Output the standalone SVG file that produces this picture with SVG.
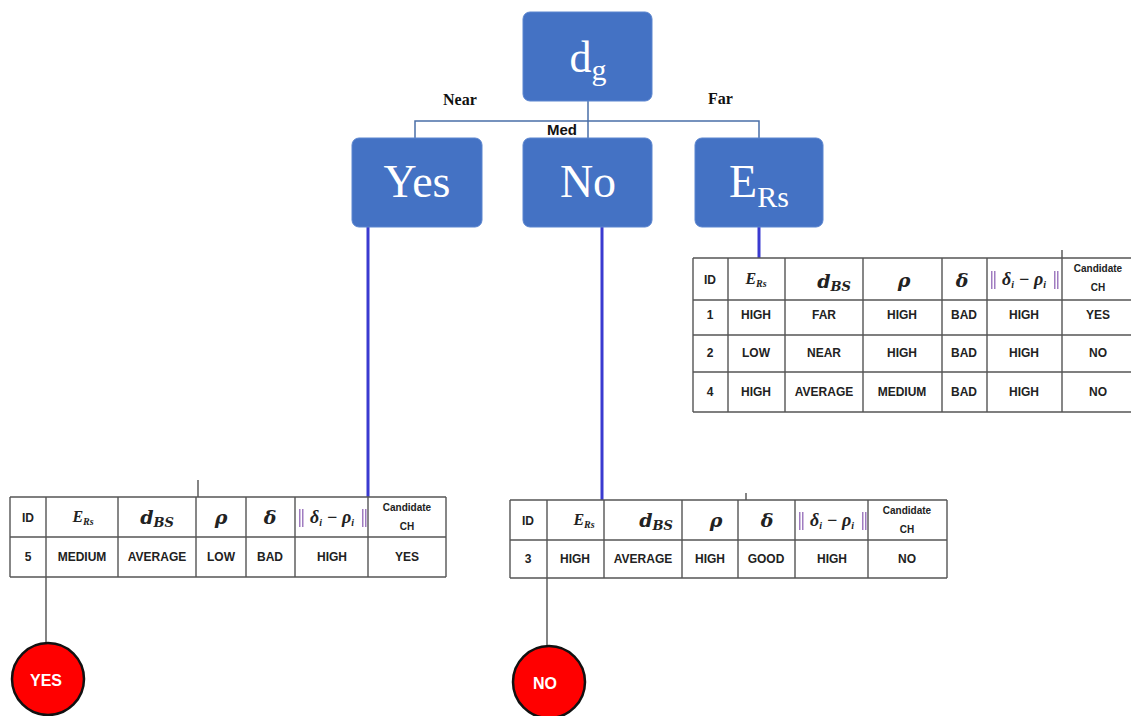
<svg xmlns="http://www.w3.org/2000/svg" width="1131" height="716" viewBox="0 0 1131 716">
<style>
.box{fill:#4472C4;stroke:#5b85cf;stroke-width:1}
.bt{font-family:"Liberation Serif","Times New Roman",serif;fill:#fff;text-anchor:middle}
.tree{stroke:#4a6fa8;stroke-width:1.5;fill:none}
.blue{stroke:#3a3ad0;stroke-width:3;fill:none}
.grid{stroke:#555;stroke-width:1.4;fill:none}
.thin{stroke:#333;stroke-width:1.2;fill:none}
.lab{font-family:"Liberation Serif","Times New Roman",serif;font-weight:bold;font-size:16px;fill:#111}
.med{font-family:"Liberation Sans",Arial,sans-serif;font-weight:bold;font-size:15px;fill:#111}
.c{font-family:"Liberation Sans",Arial,sans-serif;font-weight:bold;font-size:12px;fill:#222;text-anchor:middle}
.cs{font-family:"Liberation Sans",Arial,sans-serif;font-weight:bold;font-size:10px;fill:#222;text-anchor:middle}
.m{font-family:"DejaVu Serif","Liberation Serif",serif;font-weight:bold;font-style:italic;font-size:19px;fill:#222;text-anchor:middle}
.ms{font-family:"Liberation Serif",serif;font-weight:bold;font-style:italic;fill:#222;text-anchor:middle}
.mx{font-family:"Liberation Serif",serif;font-weight:bold;font-style:italic;font-size:18px;fill:#222;text-anchor:middle}
.bar{fill:#a07cc0}
.leaf{fill:#ff0000;stroke:#111;stroke-width:2.5}
.lt{font-family:"Liberation Sans",Arial,sans-serif;font-weight:bold;font-size:16px;fill:#fff;text-anchor:middle}
</style>

<g id="connectors">
  <path class="tree" d="M588 101 V138 M415 138 V121 H759 V138"/>
  <line class="blue" x1="368" y1="227" x2="368" y2="497"/>
  <line class="blue" x1="602" y1="227" x2="602" y2="500"/>
  <line class="blue" x1="759" y1="227" x2="759" y2="258"/>
  <line class="thin" x1="46" y1="577" x2="46" y2="643"/>
  <line class="thin" x1="547" y1="578" x2="547" y2="646"/>
  <line class="thin" x1="198" y1="480" x2="198" y2="497"/>
  <line class="thin" x1="746" y1="493" x2="746" y2="500"/>
  <line class="thin" x1="1062" y1="250" x2="1062" y2="258"/>
</g>

<g id="edge-labels">
  <text class="lab" x="443" y="105">Near</text>
  <text class="med" x="547" y="135">Med</text>
  <text class="lab" x="708" y="104">Far</text>
</g>

<g id="node-dg">
  <rect class="box" x="523" y="12" width="129" height="89" rx="7"/>
  <text class="bt" x="588" y="72" font-size="44">d<tspan font-size="30" dy="8">g</tspan></text>
</g>
<g id="node-yes">
  <rect class="box" x="352" y="138" width="130" height="89" rx="7"/>
  <text class="bt" x="417" y="197" font-size="46">Yes</text>
</g>
<g id="node-no">
  <rect class="box" x="523" y="138" width="129" height="89" rx="7"/>
  <text class="bt" x="588" y="197" font-size="46">No</text>
</g>
<g id="node-ers">
  <rect class="box" x="695" y="138" width="128" height="89" rx="7"/>
  <text class="bt" x="759" y="197" font-size="46">E<tspan font-size="30" dy="10">Rs</tspan></text>
</g>

<g id="table-far">
  <path class="grid" d="M693 258 H1131 M693 300 H1131 M693 335 H1131 M693 372 H1131 M693 412 H1131 M693 258 V412 M728 258 V412 M785 258 V412 M863 258 V412 M942 258 V412 M987 258 V412 M1062 258 V412"/>
  <text class="c" x="710" y="284">ID</text>
  <text class="ms" x="756" y="284" font-size="16">E<tspan font-size="10" dy="3">Rs</tspan></text>
  <text class="m" x="834" y="288">d<tspan font-size="13" dy="3">BS</tspan></text>
  <text class="m" x="904" y="287">ρ</text>
  <text class="m" x="962" y="287">δ</text>
  <g><rect class="bar" x="991" y="271" width="1.5" height="18"/><rect class="bar" x="994" y="271" width="1.5" height="18"/>
  <text class="mx" x="1024" y="285">δ<tspan font-size="10" dy="3">i</tspan><tspan dy="-3"> − ρ</tspan><tspan font-size="10" dy="3">i</tspan></text>
  <rect class="bar" x="1054" y="271" width="1.5" height="18"/><rect class="bar" x="1057" y="271" width="1.5" height="18"/></g>
  <text class="cs" x="1098" y="272">Candidate</text>
  <text class="cs" x="1098" y="291">CH</text>
  <text class="c" x="710" y="319">1</text><text class="c" x="756" y="319">HIGH</text><text class="c" x="824" y="319">FAR</text><text class="c" x="902" y="319">HIGH</text><text class="c" x="964" y="319">BAD</text><text class="c" x="1024" y="319">HIGH</text><text class="c" x="1098" y="319">YES</text>
  <text class="c" x="710" y="357">2</text><text class="c" x="756" y="357">LOW</text><text class="c" x="824" y="357">NEAR</text><text class="c" x="902" y="357">HIGH</text><text class="c" x="964" y="357">BAD</text><text class="c" x="1024" y="357">HIGH</text><text class="c" x="1098" y="357">NO</text>
  <text class="c" x="710" y="396">4</text><text class="c" x="756" y="396">HIGH</text><text class="c" x="824" y="396">AVERAGE</text><text class="c" x="902" y="396">MEDIUM</text><text class="c" x="964" y="396">BAD</text><text class="c" x="1024" y="396">HIGH</text><text class="c" x="1098" y="396">NO</text>
</g>

<g id="table-near">
  <path class="grid" d="M10 497 H446 M10 537 H446 M10 577 H446 M10 497 V577 M46 497 V577 M118 497 V577 M196 497 V577 M246 497 V577 M295 497 V577 M368 497 V577 M446 497 V577"/>
  <text class="c" x="28" y="522">ID</text>
  <text class="ms" x="83" y="522" font-size="16">E<tspan font-size="10" dy="3">Rs</tspan></text>
  <text class="m" x="157" y="524">d<tspan font-size="13" dy="3">BS</tspan></text>
  <text class="m" x="221" y="524">ρ</text>
  <text class="m" x="270" y="524">δ</text>
  <g><rect class="bar" x="299" y="509" width="1.5" height="18"/><rect class="bar" x="302" y="509" width="1.5" height="18"/>
  <text class="mx" x="332" y="523">δ<tspan font-size="10" dy="3">i</tspan><tspan dy="-3"> − ρ</tspan><tspan font-size="10" dy="3">i</tspan></text>
  <rect class="bar" x="362" y="509" width="1.5" height="18"/><rect class="bar" x="365" y="509" width="1.5" height="18"/></g>
  <text class="cs" x="407" y="511">Candidate</text>
  <text class="cs" x="407" y="530">CH</text>
  <text class="c" x="28" y="561">5</text><text class="c" x="82" y="561">MEDIUM</text><text class="c" x="157" y="561">AVERAGE</text><text class="c" x="221" y="561">LOW</text><text class="c" x="270" y="561">BAD</text><text class="c" x="332" y="561">HIGH</text><text class="c" x="407" y="561">YES</text>
</g>

<g id="table-med">
  <path class="grid" d="M510 500 H947 M510 540 H947 M510 578 H947 M510 500 V578 M547 500 V578 M604 500 V578 M682 500 V578 M738 500 V578 M795 500 V578 M868 500 V578 M947 500 V578"/>
  <text class="c" x="528" y="525">ID</text>
  <text class="ms" x="584" y="525" font-size="16">E<tspan font-size="10" dy="3">Rs</tspan></text>
  <text class="m" x="656" y="527">d<tspan font-size="13" dy="3">BS</tspan></text>
  <text class="m" x="716" y="527">ρ</text>
  <text class="m" x="767" y="527">δ</text>
  <g><rect class="bar" x="799" y="512" width="1.5" height="18"/><rect class="bar" x="802" y="512" width="1.5" height="18"/>
  <text class="mx" x="832" y="526">δ<tspan font-size="10" dy="3">i</tspan><tspan dy="-3"> − ρ</tspan><tspan font-size="10" dy="3">i</tspan></text>
  <rect class="bar" x="862" y="512" width="1.5" height="18"/><rect class="bar" x="865" y="512" width="1.5" height="18"/></g>
  <text class="cs" x="907" y="514">Candidate</text>
  <text class="cs" x="907" y="533">CH</text>
  <text class="c" x="528" y="563">3</text><text class="c" x="575" y="563">HIGH</text><text class="c" x="643" y="563">AVERAGE</text><text class="c" x="710" y="563">HIGH</text><text class="c" x="766" y="563">GOOD</text><text class="c" x="832" y="563">HIGH</text><text class="c" x="907" y="563">NO</text>
</g>

<g id="leaf-yes">
  <circle class="leaf" cx="48" cy="679" r="36"/>
  <text class="lt" x="46" y="686">YES</text>
</g>
<g id="leaf-no">
  <circle class="leaf" cx="549" cy="682" r="36"/>
  <text class="lt" x="545" y="689">NO</text>
</g>
</svg>
